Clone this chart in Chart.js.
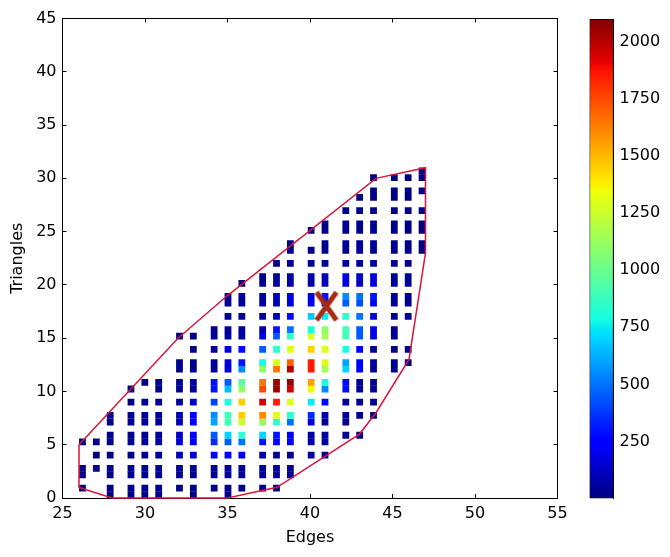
<!DOCTYPE html>
<html lang="en">
<head>
  <meta charset="UTF-8">
  <title>Edges vs Triangles</title>
  <script src="https://cdn.jsdelivr.net/npm/chart.js"></script>
  <style>
    body { margin: 0; background: #fff; }
    #wrap { position: relative; width: 670px; height: 557px; }
    canvas { position: absolute; top: 0; }
    #histChart { left: 0; }
    #barChart { left: 560px; }
  </style>
</head>
<body>
  <div id="wrap">
    <canvas id="histChart" width="670" height="557"></canvas>
    <canvas id="barChart" width="110" height="557"></canvas>
  </div>
  <script>
    // counts per edge value, index in each list = number of triangles
    const edges = [26, 27, 28, 29, 30, 31, 32, 33, 34, 35, 36, 37, 38, 39, 40, 41, 42, 43, 44, 45, 46, 47];
    const counts = [
      [0, 8, 15, 15, 0, 5],
      [0, 0, 0, 8, 15, 10],
      [15, 15, 20, 20, 20, 15, 15, 20, 20],
      [20, 20, 25, 25, 20, 25, 25, 30, 30, 15, 5],
      [25, 25, 30, 30, 50, 30, 35, 35, 35, 20, 0, 10],
      [30, 30, 35, 35, 60, 60, 45, 35, 35, 30, 30, 30],
      [0, 10, 30, 30, 100, 150, 130, 90, 80, 50, 30, 30, 25, 25, 0, 8],
      [20, 20, 35, 35, 160, 230, 210, 240, 230, 150, 60, 55, 30, 30, 15, 20],
      [0, 15, 35, 35, 250, 350, 450, 600, 550, 400, 300, 300, 40, 40, 35, 45, 35],
      [20, 25, 35, 35, 250, 450, 700, 900, 900, 800, 650, 450, 170, 170, 170, 60, 50, 25, 40, 35],
      [0, 15, 35, 40, 250, 500, 850, 1250, 1450, 1450, 1100, 950, 550, 300, 280, 70, 70, 40, 50, 50, 5],
      [0, 12, 50, 50, 70, 300, 700, 1100, 1600, 1950, 1750, 1650, 1100, 800, 450, 210, 100, 50, 60, 60, 30, 35],
      [0, 8, 50, 45, 50, 250, 300, 850, 1300, 1850, 2050, 2050, 1650, 1300, 850, 450, 300, 100, 70, 110, 40, 40, 20],
      [0, 0, 45, 35, 30, 200, 200, 500, 850, 1300, 1950, 2050, 2000, 1700, 1300, 850, 500, 280, 170, 190, 70, 70, 45, 25, 20],
      [0, 0, 0, 0, 50, 70, 70, 170, 350, 750, 1350, 1550, 1850, 1850, 1450, 1300, 800, 680, 220, 190, 60, 70, 40, 20, 0, 10],
      [0, 0, 0, 0, 30, 50, 50, 50, 70, 280, 550, 800, 1150, 1300, 1300, 1150, 1100, 750, 300, 300, 100, 100, 50, 30, 25, 25, 15],
      [0, 0, 0, 0, 0, 0, 30, 35, 35, 50, 280, 280, 700, 600, 800, 900, 900, 850, 450, 550, 170, 190, 60, 40, 40, 25, 20, 12],
      [0, 0, 0, 0, 0, 0, 25, 0, 30, 35, 55, 55, 250, 250, 250, 450, 450, 500, 420, 500, 130, 130, 55, 45, 45, 30, 25, 15, 8],
      [0, 0, 0, 0, 0, 0, 0, 0, 15, 20, 35, 35, 40, 45, 45, 190, 200, 170, 220, 300, 170, 170, 70, 45, 40, 35, 25, 15, 15, 15, 5],
      [0, 0, 0, 0, 0, 0, 0, 0, 0, 0, 0, 0, 30, 30, 20, 35, 35, 30, 45, 45, 45, 45, 45, 30, 30, 25, 25, 15, 15, 15, 10],
      [0, 0, 0, 0, 0, 0, 0, 0, 0, 0, 0, 0, 0, 5, 10, 0, 0, 20, 30, 30, 35, 35, 25, 25, 25, 15, 15, 8, 8, 10, 8],
      [0, 0, 0, 0, 0, 0, 0, 0, 0, 0, 0, 0, 0, 0, 0, 0, 0, 0, 0, 0, 0, 0, 0, 5, 5, 4, 4, 3, 0, 3, 3, 2]
    ];
    // outline of the region, in (edges, triangles)
    const hullEdges = [26, 29, 32, 35, 44, 47, 47, 46, 44, 43, 41, 38, 35, 28, 26, 26];
    const hullTriangles = [5, 10, 15, 19, 30, 31, 23, 13, 8, 6, 4, 1, 0, 0, 1, 5];
    const markEdges = [41];
    const markTriangles = [18];

    const colorMin = 1;
    const colorMax = 2099;
    const colorTicks = [250, 500, 750, 1000, 1250, 1500, 1750, 2000];

    Chart.defaults.font.family = '"DejaVu Sans"';
    Chart.defaults.font.size = 16;
    Chart.defaults.color = '#000';
    Chart.defaults.animation = false;
    Chart.defaults.plugins.legend.display = false;
    Chart.defaults.plugins.tooltip.enabled = false;

    // histogram uses 50 bins per axis, so integer values land on these bin centres
    function binCenter(value, lo, hi) {
      const w = (hi - lo) / 50;
      const i = Math.min(49, Math.floor((value - lo) / w));
      return lo + (i + 0.5) * w;
    }

    function jet(t) {
      const ramp = (pts) => {
        for (let i = 1; i < pts.length; i++) {
          if (t <= pts[i][0]) {
            const f = (t - pts[i - 1][0]) / (pts[i][0] - pts[i - 1][0]);
            return pts[i - 1][1] + f * (pts[i][1] - pts[i - 1][1]);
          }
        }
        return pts[pts.length - 1][1];
      };
      const r = ramp([[0, 0], [0.35, 0], [0.66, 1], [0.89, 1], [1, 0.5]]);
      const g = ramp([[0, 0], [0.125, 0], [0.375, 1], [0.64, 1], [0.91, 0], [1, 0]]);
      const b = ramp([[0, 0.5], [0.11, 1], [0.34, 1], [0.65, 0], [1, 0]]);
      return `rgb(${Math.round(r * 255)},${Math.round(g * 255)},${Math.round(b * 255)})`;
    }
    const countColor = (v) => jet((v - colorMin) / (colorMax - colorMin));

    const cells = [];
    edges.forEach((e, i) => {
      counts[i].forEach((v, t) => {
        if (v > 0) cells.push({ x: binCenter(e, 26, 47), y: binCenter(t, 0, 31), v: v });
      });
    });

    // the x mark is a bit taller than wide
    const markIcon = document.createElement('canvas');
    markIcon.width = 28;
    markIcon.height = 36;
    const markCtx = markIcon.getContext('2d');
    markCtx.strokeStyle = '#a82a10';
    markCtx.lineWidth = 5;
    markCtx.beginPath();
    markCtx.moveTo(4, 4);
    markCtx.lineTo(24, 32);
    markCtx.moveTo(24, 4);
    markCtx.lineTo(4, 32);
    markCtx.stroke();

    const insideTicks = { drawOnChartArea: false, tickLength: -4, tickColor: '#000' };
    const blackBorder = { color: '#000', width: 1 };

    // fixed axis size, and no extra room for labels hanging past the plot
    const fitAxis = (size) => (s) => {
      if (s.isHorizontal()) s.height = size; else s.width = size;
      s.paddingTop = s.paddingBottom = s.paddingLeft = s.paddingRight = 0;
    };

    new Chart(document.getElementById('histChart'), {
      type: 'scatter',
      data: {
        datasets: [
          {
            data: markEdges.map((x, i) => ({ x: x, y: markTriangles[i] })),
            order: 1,
            pointStyle: markIcon,
            clip: false
          },
          {
            data: hullEdges.map((x, i) => ({ x: x, y: hullTriangles[i] })),
            order: 2,
            showLine: true,
            borderColor: '#dc143c',
            borderWidth: 1.5,
            pointRadius: 0,
            clip: false
          },
          {
            data: cells,
            order: 3,
            pointStyle: 'rect',
            pointRadius: 4.8,
            pointBorderWidth: 0,
            pointBackgroundColor: (c) => countColor(c.raw.v)
          }
        ]
      },
      options: {
        responsive: false,
        layout: { padding: 0 },
        scales: {
          x: {
            type: 'linear', min: 25, max: 55,
            ticks: { stepSize: 5, padding: 10, maxRotation: 0 },
            grid: insideTicks, border: blackBorder,
            title: { display: true, text: 'Edges', padding: { top: 0, bottom: 10 } },
            afterFit: fitAxis(59)
          },
          y: {
            type: 'linear', min: 0, max: 45,
            ticks: { stepSize: 5, padding: 10 },
            grid: insideTicks, border: blackBorder,
            title: { display: true, text: 'Triangles', padding: { top: 8, bottom: 0 } },
            afterFit: fitAxis(62.5)
          },
          x2: {
            type: 'linear', position: 'top', min: 25, max: 55,
            ticks: { stepSize: 5, display: false },
            grid: insideTicks, border: blackBorder,
            afterFit: fitAxis(18.5)
          },
          y2: {
            type: 'linear', position: 'right', min: 0, max: 45,
            ticks: { stepSize: 5, display: false },
            grid: insideTicks, border: blackBorder,
            afterFit: fitAxis(112.5)
          }
        }
      }
    });

    new Chart(document.getElementById('barChart'), {
      type: 'bar',
      data: {
        labels: ['counts'],
        datasets: [{
          data: [[colorMin, colorMax]],
          barPercentage: 1,
          categoryPercentage: 1,
          borderColor: '#000',
          borderWidth: 1,
          borderSkipped: false,
          backgroundColor: (c) => {
            const area = c.chart.chartArea;
            if (!area) return '#000';
            const grad = c.chart.ctx.createLinearGradient(0, area.bottom, 0, area.top);
            [0, 0.11, 0.125, 0.34, 0.35, 0.375, 0.5, 0.64, 0.65, 0.66, 0.89, 0.91, 1].forEach((t) => {
              grad.addColorStop(t, jet(t));
            });
            return grad;
          }
        }]
      },
      options: {
        responsive: false,
        layout: { padding: { left: 29.5, top: 19, bottom: 58.5 } },
        scales: {
          x: { display: false },
          y: {
            position: 'right', min: colorMin, max: colorMax,
            afterBuildTicks: (s) => { s.ticks = colorTicks.map((v) => ({ value: v })); },
            ticks: { padding: 10, autoSkip: false, callback: (v) => String(v) },
            grid: insideTicks, border: blackBorder,
            afterFit: fitAxis(56.5)
          }
        }
      }
    });
  </script>
</body>
</html>
